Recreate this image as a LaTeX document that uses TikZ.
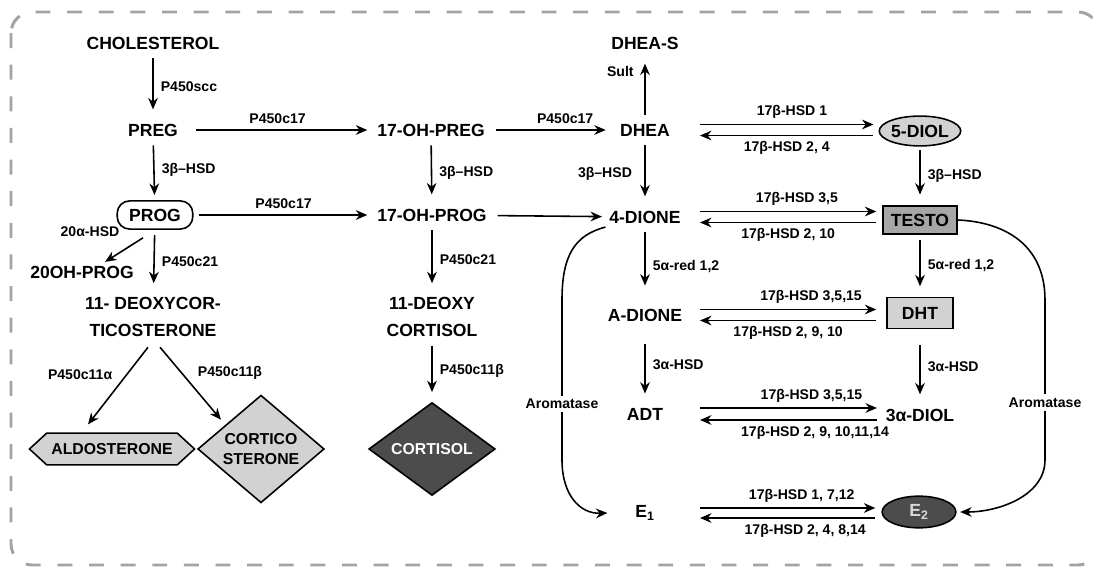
\documentclass[tikz,border=0pt]{standalone}
\usepackage{fontspec}
\setmainfont{Liberation Sans}
\usetikzlibrary{arrows.meta,shapes.geometric,shapes.symbols,calc}

\definecolor{lightfill}{HTML}{D2D2D2}
\definecolor{midfill}{HTML}{A6A6A6}
\definecolor{darkfill}{HTML}{4C4C4C}
\definecolor{framegray}{HTML}{A3A3A3}

\begin{document}
\begin{tikzpicture}[x=0.02cm, y=-0.02cm,
    comp/.style={font=\fontsize{10}{15}\selectfont\bfseries, inner sep=2pt, align=center},
    enz/.style={font=\fontsize{8}{9}\selectfont\bfseries, inner sep=1pt},
    flow/.style={-{Stealth[length=6.5pt,width=5.5pt]}, line width=0.9pt,
                 shorten <=3pt, shorten >=6pt},
    fwd/.style={-{Stealth[length=6.5pt,width=5.5pt]}, line width=0.9pt},
    back/.style={{Stealth[length=6.5pt,width=5.5pt]}-, line width=0.9pt},
    pill/.style={draw, line width=0.9pt, rounded corners=7pt,
                 minimum width=43pt, minimum height=16pt},
    hexbox/.style={signal, signal to=west and east, signal pointer angle=85,
                   draw, line width=0.9pt, fill=lightfill, inner sep=0pt,
                   minimum width=94pt, minimum height=18pt,
                   font=\fontsize{9}{11}\selectfont\bfseries},
    dia/.style={diamond, draw, line width=0.9pt, inner sep=0pt, align=center,
                minimum width=72pt, minimum height=50pt,
                font=\fontsize{9}{11.4}\selectfont\bfseries},
    oval/.style={ellipse, draw, line width=0.9pt, inner sep=0pt,
                 minimum width=42pt, minimum height=17pt},
    sqbox/.style={rectangle, draw, line width=0.9pt, inner sep=0pt},
    frame/.style={draw=framegray, line width=1.7pt,
                  dash pattern=on 8.5pt off 9.5pt, rounded corners=12pt},
]

    \path[use as bounding box, clip] (0,0) rectangle (1093,567);
    \draw[frame] (11,12) rectangle (1099,565);

    % left branch
    \node[comp] (chol) at (153,43) {CHOLESTEROL};
    \node[comp] (preg) at (153,130) {PREG};
    \node[comp, pill] (prog) at (155,215) {PROG};
    \node[comp] (ohp20) at (82,272) {20OH-PROG};
    \node[comp] (doc) at (153,317) {11- DEOXYCOR-\\TICOSTERONE};
    \node[hexbox] (aldo) at (112,449) {ALDOSTERONE};
    \node[dia, fill=lightfill] (cortico) at (261,449) {CORTICO\\STERONE};
    \node[enz] (hsd20) at (90,232) {20α-HSD};

    \draw[flow] (chol) -- node[enz, right=3pt] {P450scc} (preg);
    \draw[flow, shorten >=3pt] (preg) -- node[enz, right=3pt] {3β–HSD} (prog);
    \draw[flow] (prog) -- node[enz, right=3pt] {P450c21} (doc);
    \draw[fwd] ($(prog.south)+(-12,8)$) -- ($(ohp20.north)+(23,0)$);
    \draw[fwd] ($(doc.south)+(-5,7)$) -- node[enz, left=7pt, pos=0.35] {P450c11α} ($(aldo.north)+(-24,-8)$);
    \draw[fwd] ($(doc.south)+(7,7)$) -- node[enz, right=8pt, pos=0.35] {P450c11β} ($(cortico.north west)+(-8,-2)$);

    % middle branch
    \node[comp] (ohpreg) at (431,130) {17-OH-PREG};
    \node[comp] (ohprog) at (432,215) {17-OH-PROG};
    \node[comp] (dcort) at (432,317) {11-DEOXY\\CORTISOL};
    \node[dia, fill=darkfill, text=white] (cortisol) at (432,449) {CORTISOL};

    \draw[flow, shorten <=8pt, shorten >=3.5pt] (preg) -- node[enz, above=2pt] {P450c17} (ohpreg);
    \draw[flow, shorten >=3.5pt] (prog) -- node[enz, above=2pt] {P450c17} (ohprog);
    \draw[flow] (ohpreg) -- node[enz, right=3pt] {3β–HSD} (ohprog);
    \draw[flow] (ohprog) -- node[enz, right=3pt] {P450c21} (dcort);
    \draw[flow, shorten >=5.5pt] (dcort) -- node[enz, right=3pt] {P450c11β} (cortisol);

    % androgen branch
    \node[comp] (dheas) at (645,43) {DHEA-S};
    \node[comp] (dhea) at (645,130) {DHEA};
    \node[comp] (dione) at (645,217) {4-DIONE};
    \node[comp] (adione) at (645,315) {A-DIONE};
    \node[comp] (adt) at (645,414) {ADT};
    \node[comp] (eone) at (645,513) {E\textsubscript{1}};

    \draw[flow, shorten <=4pt, shorten >=6pt] (ohpreg) -- node[enz, above=2pt, pos=0.6] {P450c17} (dhea);
    \draw[flow, shorten <=4pt, shorten >=2pt] (ohprog) -- (dione);
    \draw[flow] (dhea) -- node[enz, left=5pt, pos=0.72] {Sult} (dheas);
    \draw[flow] (dhea) -- node[enz, left=6pt] {3β–HSD} (dione);
    \draw[flow, shorten >=11pt] (dione) -- node[enz, right=3pt] {5α-red 1,2} (adione);
    \draw[flow, shorten <=11pt] (adione) -- node[enz, right=3pt] {3α-HSD} (adt);
    \draw[fwd] (dione.south west) .. controls (575,235) and (562,255) .. (562,300)
        -- node[enz, fill=white, inner sep=2pt, pos=0.65] {Aromatase} (562,460)
        .. controls (562,495) and (580,514) .. ($(eone.west)+(-24,0)$);

    % right branch
    \node[comp, oval, fill=lightfill] (diol5) at (920,131) {5-DIOL};
    \node[comp, sqbox, fill=midfill, minimum width=42pt, minimum height=16pt] (testo) at (920,220) {TESTO};
    \node[comp, sqbox, fill=lightfill, minimum width=37.5pt, minimum height=17.5pt] (dht) at (920,313) {DHT};
    \node[comp] (diol3) at (920,415) {3α-DIOL};
    \node[comp, oval, fill=darkfill, text=black!15, minimum height=18pt] (etwo) at (919,512) {E\textsubscript{2}};

    \coordinate (lx) at (700,0);

    \draw[fwd] ($(dhea -| lx)+(0,-5.5)$) -- node[enz, above=2pt, pos=0.53] {17β-HSD 1} ($(dhea -| diol5.west)+(-5,-5.5)$);
    \draw[back] ($(dhea -| lx)+(0,5.5)$) -- node[enz, below=2pt, pos=0.5] {17β-HSD 2, 4} ($(dhea -| diol5.west)+(-5,5.5)$);
    \draw[fwd] ($(dione -| lx)+(0,-5.5)$) -- node[enz, above=2pt, pos=0.55] {17β-HSD 3,5} ($(dione -| testo.west)+(-6,-5.5)$);
    \draw[back] ($(dione -| lx)+(0,5.5)$) -- node[enz, below=2pt, pos=0.5] {17β-HSD 2, 10} ($(dione -| testo.west)+(-6,5.5)$);
    \draw[fwd] ($(adione -| lx)+(0,-5.5)$) -- node[enz, above=2pt, pos=0.63] {17β-HSD 3,5,15} ($(adione -| dht.west)+(-10,-5.5)$);
    \draw[back] ($(adione -| lx)+(0,5.5)$) -- node[enz, below=2pt, pos=0.5] {17β-HSD 2, 9, 10} ($(adione -| dht.west)+(-10,5.5)$);
    \draw[fwd] ($(adt -| lx)+(0,-6)$) -- node[enz, above=2pt, pos=0.63] {17β-HSD 3,5,15} ($(adt -| diol3.west)+(-5,-6)$);
    \draw[back] ($(adt -| lx)+(0,6)$) -- node[enz, below=2pt, pos=0.65] {17β-HSD 2, 9, 10,11,14} ($(adt -| diol3.west)+(-5,6)$);
    \draw[fwd] ($(eone -| lx)+(0,-5)$) -- node[enz, above=2pt, pos=0.58] {17β-HSD 1, 7,12} ($(eone -| etwo.west)+(-6,-5)$);
    \draw[back] ($(eone -| lx)+(0,5)$) -- node[enz, below=2pt, pos=0.6] {17β-HSD 2, 4, 8,14} ($(eone -| etwo.west)+(-6,5)$);

    \draw[flow, shorten <=2pt] (diol5) -- node[enz, right=3pt] {3β–HSD} (testo);
    \draw[flow] (testo) -- node[enz, right=3pt] {5α-red 1,2} (dht);
    \draw[flow, shorten <=9pt] (dht) -- node[enz, right=3pt] {3α-HSD} (diol3);
    \draw[fwd, shorten >=2pt] (testo.east) .. controls (1005,222) and (1045,245) .. (1045,300)
        -- node[enz, fill=white, inner sep=2pt, pos=0.64] {Aromatase} (1045,460)
        .. controls (1045,495) and (1000,512) .. (etwo.east);

\end{tikzpicture}
\end{document}
